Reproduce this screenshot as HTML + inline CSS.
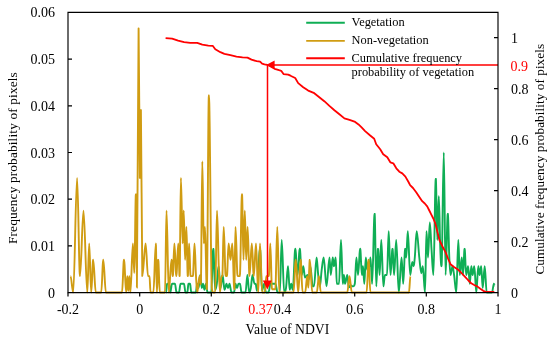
<!DOCTYPE html>
<html><head><meta charset="utf-8"><title>NDVI</title>
<style>
html,body{margin:0;padding:0;background:#fff;}
svg{display:block;will-change:transform;opacity:0.999;}
text{font-family:"Liberation Serif",serif;fill:#000;}
.t{font-size:14px;}
.r{fill:#ff0000;}
</style></head><body>
<svg width="550" height="338" viewBox="0 0 550 338">
<rect width="550" height="338" fill="#fff"/>
<path d="M166.0,292.5C166.43,292.50 166.77,283.75 167.2,283.8L169.0,283.8C169.47,283.75 169.83,292.50 170.3,292.5C170.91,292.50 171.39,283.75 172.0,283.8L175.0,283.8C175.54,283.75 175.96,292.50 176.5,292.5L179.0,292.5C179.54,292.50 179.96,283.75 180.5,283.8L184.0,283.8C184.54,283.75 184.96,292.50 185.5,292.5L187.3,292.5C187.73,292.50 188.07,283.75 188.5,283.8L190.0,283.8C190.47,283.75 190.83,292.50 191.3,292.5L195.8,292.5C196.30,292.50 196.70,283.75 197.2,283.8C197.70,283.75 198.10,288.12 198.6,288.1C199.18,288.12 199.62,275.00 200.2,275.0C200.78,275.00 201.22,288.12 201.8,288.1C202.23,288.12 202.57,283.75 203.0,283.8C203.54,283.75 203.96,289.88 204.5,289.9C205.04,289.88 205.46,283.75 206.0,283.8C206.54,283.75 206.96,292.50 207.5,292.5L211.2,292.5C211.96,292.50 212.54,248.75 213.3,248.8C213.98,248.75 214.52,289.88 215.2,289.9C215.78,289.88 216.22,287.75 216.8,283.8C217.45,279.25 217.95,266.25 218.6,266.2C219.28,266.25 219.82,288.12 220.5,288.1C221.26,288.12 221.84,275.00 222.6,275.0C223.28,275.00 223.82,289.88 224.5,289.9C225.22,289.88 225.78,283.75 226.5,283.8C227.04,283.75 227.46,288.12 228.0,288.1C228.54,288.12 228.96,283.75 229.5,283.8C230.22,283.75 230.78,292.50 231.5,292.5L234.0,292.5C234.54,292.50 234.96,283.75 235.5,283.8C236.04,283.75 236.46,288.12 237.0,288.1C237.54,288.12 237.96,283.75 238.5,283.8L240.0,283.8C240.54,283.75 240.96,292.50 241.5,292.5L245.5,292.5C246.18,292.50 246.72,275.00 247.4,275.0C248.05,275.00 248.55,292.50 249.2,292.5C249.78,292.50 250.22,291.18 250.8,288.1C251.41,284.88 251.89,275.00 252.5,275.0C253.22,275.00 253.78,283.75 254.5,283.8L255.6,283.8C256.10,283.75 256.50,290.75 257.0,290.8C258.08,290.75 258.92,248.75 260.0,248.8C260.72,248.75 261.28,290.75 262.0,290.8C262.79,290.75 263.41,283.75 264.2,283.8C264.85,283.75 265.35,292.50 266.0,292.5L268.5,292.5C269.22,292.50 269.78,283.75 270.5,283.8L275.5,283.8C276.22,283.75 276.78,292.50 277.5,292.5L279.8,292.5C280.48,292.50 281.02,240.00 281.7,240.0C282.60,240.00 283.30,292.50 284.2,292.5C284.85,292.50 285.35,292.60 286.0,288.1C286.72,283.15 287.28,266.25 288.0,266.2C288.61,266.25 289.09,289.88 289.7,289.9C290.24,289.88 290.66,283.75 291.2,283.8C291.78,283.75 292.22,289.88 292.8,289.9C293.70,289.88 294.40,248.75 295.3,248.8C296.09,248.75 296.71,275.00 297.5,275.0C298.33,275.00 298.97,248.75 299.8,248.8C300.48,248.75 301.02,275.00 301.7,275.0C302.28,275.00 302.72,266.25 303.3,266.2C303.91,266.25 304.39,277.62 305.0,277.6C305.90,277.62 306.60,275.00 307.5,275.0C308.04,275.00 308.46,279.38 309.0,279.4C309.47,279.38 309.83,266.25 310.3,266.2C311.20,266.25 311.90,286.38 312.8,286.4L314.0,286.4C314.94,286.38 315.66,257.50 316.6,257.5C317.18,257.50 317.62,269.96 318.2,275.0C318.81,280.36 319.29,286.38 319.9,286.4C320.51,286.38 320.99,275.28 321.6,270.6C322.36,264.88 322.94,257.50 323.7,257.5C324.71,257.50 325.49,286.38 326.5,286.4C327.58,286.38 328.42,257.50 329.5,257.5C329.97,257.50 330.33,275.00 330.8,275.0C331.48,275.00 332.02,257.50 332.7,257.5C333.17,257.50 333.53,266.25 334.0,266.2C334.61,266.25 335.09,257.50 335.7,257.5C336.10,257.50 336.40,283.75 336.8,283.8L339.0,283.8C339.72,283.75 340.28,240.00 341.0,240.0C341.65,240.00 342.15,283.75 342.8,283.8C343.20,283.75 343.50,275.00 343.9,275.0C344.33,275.00 344.67,283.75 345.1,283.8C345.89,283.75 346.51,275.00 347.3,275.0C347.88,275.00 348.32,287.25 348.9,287.2C349.66,287.25 350.24,285.50 351.0,285.5C351.72,285.50 352.28,286.38 353.0,286.4C353.65,286.38 354.15,286.58 354.8,283.8C355.38,281.23 355.82,257.50 356.4,257.5C356.98,257.50 357.42,275.00 358.0,275.0C358.79,275.00 359.41,248.75 360.2,248.8C360.81,248.75 361.29,275.00 361.9,275.0C362.30,275.00 362.60,266.25 363.0,266.2C363.47,266.25 363.83,283.75 364.3,283.8C364.84,283.75 365.26,257.50 365.8,257.5C366.30,257.50 366.70,269.75 367.2,269.8C367.67,269.75 368.03,261.88 368.5,261.9C368.86,261.88 369.14,266.25 369.5,266.2C369.86,266.25 370.14,257.50 370.5,257.5C371.08,257.50 371.52,283.75 372.1,283.8C373.00,283.75 373.70,213.75 374.6,213.8C375.21,213.75 375.69,286.38 376.3,286.4C376.91,286.38 377.39,248.75 378.0,248.8C378.58,248.75 379.02,275.00 379.6,275.0C380.21,275.00 380.69,240.00 381.3,240.0C382.06,240.00 382.64,286.38 383.4,286.4C383.94,286.38 384.36,275.00 384.9,275.0L387.0,275.0C387.61,275.00 388.09,231.25 388.7,231.2C389.35,231.25 389.85,275.00 390.5,275.0C391.22,275.00 391.78,248.75 392.5,248.8C393.08,248.75 393.52,275.00 394.1,275.0C394.86,275.00 395.44,240.00 396.2,240.0C397.14,240.00 397.86,292.50 398.8,292.5C399.81,292.50 400.59,257.50 401.6,257.5C402.18,257.50 402.62,283.75 403.2,283.8C403.92,283.75 404.48,248.75 405.2,248.8C405.56,248.75 405.84,257.50 406.2,257.5C406.78,257.50 407.22,231.25 407.8,231.2C408.66,231.25 409.34,275.00 410.2,275.0C410.96,275.00 411.54,261.88 412.3,261.9C412.73,261.88 413.07,266.25 413.5,266.2C413.97,266.25 414.33,262.62 414.8,257.5C415.48,250.02 416.02,231.25 416.7,231.2C417.64,231.25 418.36,248.95 419.3,257.5C420.02,264.07 420.58,273.25 421.3,273.2C421.84,273.25 422.26,266.25 422.8,266.2C423.59,266.25 424.21,292.50 425.0,292.5C425.54,292.50 425.96,231.25 426.5,231.2C427.04,231.25 427.46,257.50 428.0,257.5C428.65,257.50 429.15,222.50 429.8,222.5C430.41,222.50 430.89,239.82 431.5,248.8C432.18,258.72 432.72,275.00 433.4,275.0C434.26,275.00 434.94,178.75 435.8,178.8C436.34,178.75 436.76,240.00 437.3,240.0C437.84,240.00 438.26,196.25 438.8,196.2C439.34,196.25 439.76,234.75 440.3,248.8C440.73,259.95 441.07,266.25 441.5,266.2C442.33,266.25 442.97,152.50 443.8,152.5C444.45,152.50 444.95,275.00 445.6,275.0C446.39,275.00 447.01,213.75 447.8,213.8C448.34,213.75 448.76,245.25 449.3,257.5C449.73,267.30 450.07,275.00 450.5,275.0C451.22,275.00 451.78,266.25 452.5,266.2C453.08,266.25 453.52,271.02 454.1,275.0C454.89,280.47 455.51,292.50 456.3,292.5C457.02,292.50 457.58,240.00 458.3,240.0C458.84,240.00 459.26,275.00 459.8,275.0C460.52,275.00 461.08,257.50 461.8,257.5C462.23,257.50 462.57,275.00 463.0,275.0C463.58,275.00 464.02,248.75 464.6,248.8C465.18,248.75 465.62,275.00 466.2,275.0C466.88,275.00 467.42,266.25 468.1,266.2C468.71,266.25 469.19,283.75 469.8,283.8C470.34,283.75 470.76,266.25 471.3,266.2C471.77,266.25 472.13,275.00 472.6,275.0C473.21,275.00 473.69,266.25 474.3,266.2C475.02,266.25 475.58,292.50 476.3,292.5C477.02,292.50 477.58,266.25 478.3,266.2C478.77,266.25 479.13,275.00 479.6,275.0C480.18,275.00 480.62,266.25 481.2,266.2C481.74,266.25 482.16,288.12 482.7,288.1C483.42,288.12 483.98,266.25 484.7,266.2C485.42,266.25 485.98,292.50 486.7,292.5L492.0,292.5C492.68,292.50 493.22,283.75 493.9,283.8C494.15,283.75 494.35,285.50 494.6,285.5" fill="none" stroke="#0fae55" stroke-width="1.9" stroke-linejoin="round"/>
<path d="M70.5,276.1C71.47,276.13 72.23,292.50 73.2,292.5C74.60,292.50 75.70,177.91 77.1,177.9C78.14,177.91 78.96,276.13 80.0,276.1C81.26,276.13 82.24,210.65 83.5,210.6C84.87,210.65 85.93,292.50 87.3,292.5C87.98,292.50 88.52,243.39 89.2,243.4C89.92,243.39 90.48,292.50 91.2,292.5C91.92,292.50 92.48,259.76 93.2,259.8C94.14,259.76 94.86,292.50 95.8,292.5L101.2,292.5C101.96,292.50 102.54,259.76 103.3,259.8C104.24,259.76 104.96,292.50 105.9,292.5L122.0,292.5C122.72,292.50 123.28,259.76 124.0,259.8C124.79,259.76 125.41,292.50 126.2,292.5C126.60,292.50 126.90,276.13 127.3,276.1C127.66,276.13 127.94,290.86 128.3,290.9C128.66,290.86 128.94,276.13 129.3,276.1C129.70,276.13 130.00,292.50 130.4,292.5C131.30,292.50 132.00,243.39 132.9,243.4C133.40,243.39 133.80,272.86 134.3,272.9C134.88,272.86 135.32,194.28 135.9,194.3C136.26,194.28 136.54,287.59 136.9,287.6C137.51,287.59 137.99,28.45 138.6,28.5C139.07,28.45 139.43,177.91 139.9,177.9C140.26,177.91 140.54,109.97 140.9,110.0C141.40,109.97 141.80,276.13 142.3,276.1C143.49,276.13 144.41,243.39 145.6,243.4C146.46,243.39 147.14,276.13 148.0,276.1L149.5,276.1C149.86,276.13 150.14,292.50 150.5,292.5L153.4,292.5C154.26,292.50 154.94,243.39 155.8,243.4C156.20,243.39 156.50,292.50 156.9,292.5C157.37,292.50 157.73,259.76 158.2,259.8C158.78,259.76 159.22,292.50 159.8,292.5L165.0,292.5C165.54,292.50 165.96,210.65 166.5,210.6C167.33,210.65 167.97,292.50 168.8,292.5C169.77,292.50 170.53,259.76 171.5,259.8C171.97,259.76 172.33,276.13 172.8,276.1C173.38,276.13 173.82,243.39 174.4,243.4C175.08,243.39 175.62,276.13 176.3,276.1C177.02,276.13 177.58,243.39 178.3,243.4C178.77,243.39 179.13,276.13 179.6,276.1C180.07,276.13 180.43,177.91 180.9,177.9C181.55,177.91 182.05,243.39 182.7,243.4C183.06,243.39 183.34,210.65 183.7,210.6C184.20,210.65 184.60,259.76 185.1,259.8C185.57,259.76 185.93,227.02 186.4,227.0C186.90,227.02 187.30,276.13 187.8,276.1C188.27,276.13 188.63,243.39 189.1,243.4C189.64,243.39 190.06,276.13 190.6,276.1L192.9,276.1C193.48,276.13 193.92,243.39 194.5,243.4C195.04,243.39 195.46,266.66 196.0,276.1C196.47,284.34 196.83,292.50 197.3,292.5C198.09,292.50 198.71,276.13 199.5,276.1C199.97,276.13 200.33,284.31 200.8,284.3C201.34,284.31 201.76,161.54 202.3,161.5C202.84,161.54 203.26,243.39 203.8,243.4C204.23,243.39 204.57,227.02 205.0,227.0C205.65,227.02 206.15,289.23 206.8,289.2C207.56,289.23 208.14,95.08 208.9,95.1C209.94,95.08 210.76,277.33 211.8,287.6C212.34,292.89 212.76,292.50 213.3,292.5L215.2,292.5C215.85,292.50 216.35,210.65 217.0,210.6C217.65,210.65 218.15,250.27 218.8,267.9C219.23,279.73 219.57,292.50 220.0,292.5C220.54,292.50 220.96,276.13 221.5,276.1L222.3,276.1C222.80,276.13 223.20,227.02 223.7,227.0C224.42,227.02 224.98,276.13 225.7,276.1L226.9,276.1C227.51,276.13 227.99,243.39 228.6,243.4C229.28,243.39 229.82,259.76 230.5,259.8C231.15,259.76 231.65,243.39 232.3,243.4C233.02,243.39 233.58,289.23 234.3,289.2C234.73,289.23 235.07,227.02 235.5,227.0C236.26,227.02 236.84,276.13 237.6,276.1L239.8,276.1C240.59,276.13 241.21,194.28 242.0,194.3C242.54,194.28 242.96,259.76 243.5,259.8C243.97,259.76 244.33,210.65 244.8,210.6C245.30,210.65 245.70,259.76 246.2,259.8C246.70,259.76 247.10,227.02 247.6,227.0C248.28,227.02 248.82,276.13 249.5,276.1C250.33,276.13 250.97,243.39 251.8,243.4C252.52,243.39 253.08,276.13 253.8,276.1C254.59,276.13 255.21,243.39 256.0,243.4C256.79,243.39 257.41,292.50 258.2,292.5C258.85,292.50 259.35,243.39 260.0,243.4C260.79,243.39 261.41,292.50 262.2,292.5L264.8,292.5C265.34,292.50 265.76,276.13 266.3,276.1L268.8,276.1C269.34,276.13 269.76,243.39 270.3,243.4C270.91,243.39 271.39,289.23 272.0,289.2L275.3,289.2C276.02,289.23 276.58,227.02 277.3,227.0C278.02,227.02 278.58,292.50 279.3,292.5L293.5,292.5C294.33,292.50 294.97,259.76 295.8,259.8C296.66,259.76 297.34,292.50 298.2,292.5C299.06,292.50 299.74,259.76 300.6,259.8C301.32,259.76 301.88,292.50 302.6,292.5L305.2,292.5C305.92,292.50 306.48,276.13 307.2,276.1C307.63,276.13 307.97,287.59 308.4,287.6C308.90,287.59 309.30,259.76 309.8,259.8C310.70,259.76 311.40,292.50 312.3,292.5L316.8,292.5C317.56,292.50 318.14,276.13 318.9,276.1C319.58,276.13 320.12,292.50 320.8,292.5L347.3,292.5C348.09,292.50 348.71,276.13 349.5,276.1C350.33,276.13 350.97,292.50 351.8,292.5L366.6,292.5C367.32,292.50 367.88,259.76 368.6,259.8C369.25,259.76 369.75,292.50 370.4,292.5L409.0,292.5C409.50,292.50 409.90,276.13 410.4,276.1" fill="none" stroke="#d09c12" stroke-width="1.9" stroke-linejoin="round"/>
<polyline points="165.6,38.1 172.1,38.7 178.1,40.7 184.1,42.1 190.2,42.9 197.2,42.9 202.3,44.7 208.3,45.6 212.7,45.8 215.3,49.2 220.4,52.2 224.4,53.8 230.4,55.2 236.5,56.6 242.5,57.4 247.5,57.6 251.5,59.6 256.6,61.2 260.1,61.7 262.1,63.6 264.5,64.3 267.3,64.8 271.5,67.0 274.6,68.8 279.1,70.2 281.2,70.8 283.5,74.1 288.2,74.7 290.5,75.7 295.2,78.0 298.2,83.1 303.2,87.2 308.2,90.6 314.3,93.2 319.3,97.2 324.3,101.2 329.4,105.9 334.4,110.3 339.4,114.3 344.4,118.4 349.5,119.9 354.5,121.6 358.5,124.4 361.6,127.4 365.1,131.1 370.2,135.5 374.2,138.7 376.2,144.2 380.2,149.2 383.2,154.2 387.3,157.3 390.3,162.3 393.3,163.3 396.3,168.3 399.3,171.7 402.3,173.4 405.4,176.6 408.5,182.0 410.1,185.1 413.0,188.0 416.2,192.2 419.5,197.2 422.2,201.2 424.8,203.5 427.2,206.3 429.3,210.5 431.2,214.3 433.3,218.5 435.3,223.4 437.3,231.4 439.4,240.0 442.5,246.5 445.5,252.1 448.0,258.5 450.5,264.2 454.0,267.0 457.5,269.2 461.0,272.5 464.6,276.3 468.0,280.0 471.2,283.3 474.2,285.0 477.2,286.4 480.3,288.8 483.3,290.8 486.3,292.0 494.3,292.0" fill="none" stroke="#ff0000" stroke-width="1.8" stroke-linejoin="round"/>
<path d="M274,65.1H498M267.5,65V281" stroke="#ff0000" stroke-width="1.5" fill="none"/>
<path d="M266.6,64.8L274.6,60.6V69.1Z" fill="#ff0000"/>
<path d="M267.3,289.6L262.8,280.4H271.8Z" fill="#ff0000"/>
<path d="M68.0,12.4H498.0V292.6H68.0Z" fill="none" stroke="#000" stroke-width="1.15"/>
<path d="M68.0,245.9h4M68.0,199.2h4M68.0,152.5h4M68.0,105.8h4M68.0,59.1h4M498.0,241.6h-4M498.0,190.6h-4M498.0,139.6h-4M498.0,88.6h-4M498.0,37.6h-4M68.0,292.6v4M139.7,292.6v4M211.3,292.6v4M283.0,292.6v4M354.7,292.6v4M426.3,292.6v4M498.0,292.6v4" stroke="#000" stroke-width="1.2" fill="none"/>
<g class="t" text-anchor="end">
<text x="55" y="17.3">0.06</text><text x="55" y="64.1">0.05</text><text x="55" y="110.8">0.04</text>
<text x="55" y="157.5">0.03</text><text x="55" y="204.2">0.02</text><text x="55" y="250.9">0.01</text><text x="55" y="297.6">0</text>
</g>
<g class="t" text-anchor="middle">
<text x="68" y="314.4">-0.2</text><text x="139.7" y="314.4">0</text><text x="211.3" y="314.4">0.2</text>
<text x="282.6" y="314.4">0.4</text><text x="354.7" y="314.4">0.6</text><text x="426.3" y="314.4">0.8</text><text x="498" y="314.4">1</text>
<text x="260.5" y="314.4" class="r">0.37</text>
</g>
<g class="t">
<text x="511" y="42.5">1</text><text x="510.6" y="71.3" class="r">0.9</text><text x="511" y="93.7">0.8</text>
<text x="511" y="144.7">0.6</text><text x="511" y="195.7">0.4</text><text x="511" y="246.7">0.2</text><text x="511" y="297.7">0</text>
</g>
<text x="245.6" y="334.4" font-size="13.7">Value of NDVI</text>
<text transform="translate(16.8,244.0) rotate(-90)" font-size="13.3" letter-spacing="0.15">Frequency probability of pixels</text>
<text transform="translate(544.3,274.6) rotate(-90)" font-size="13.2" letter-spacing="0.07">Cumulative frequency probability of pixels</text>
<path d="M306.2,22.8H344.8" stroke="#0fae55" stroke-width="1.9"/>
<path d="M306.2,40.9H344.8" stroke="#d09c12" stroke-width="1.9"/>
<path d="M306.2,58.3H344.8" stroke="#ff0000" stroke-width="1.9"/>
<g font-size="12.4">
<text x="351.6" y="26">Vegetation</text><text x="351.6" y="44.4">Non-vegetation</text>
<text x="351.6" y="61.5">Cumulative frequency</text><text x="351.6" y="76.4">probability of vegetation</text>
</g>
</svg>
</body></html>
